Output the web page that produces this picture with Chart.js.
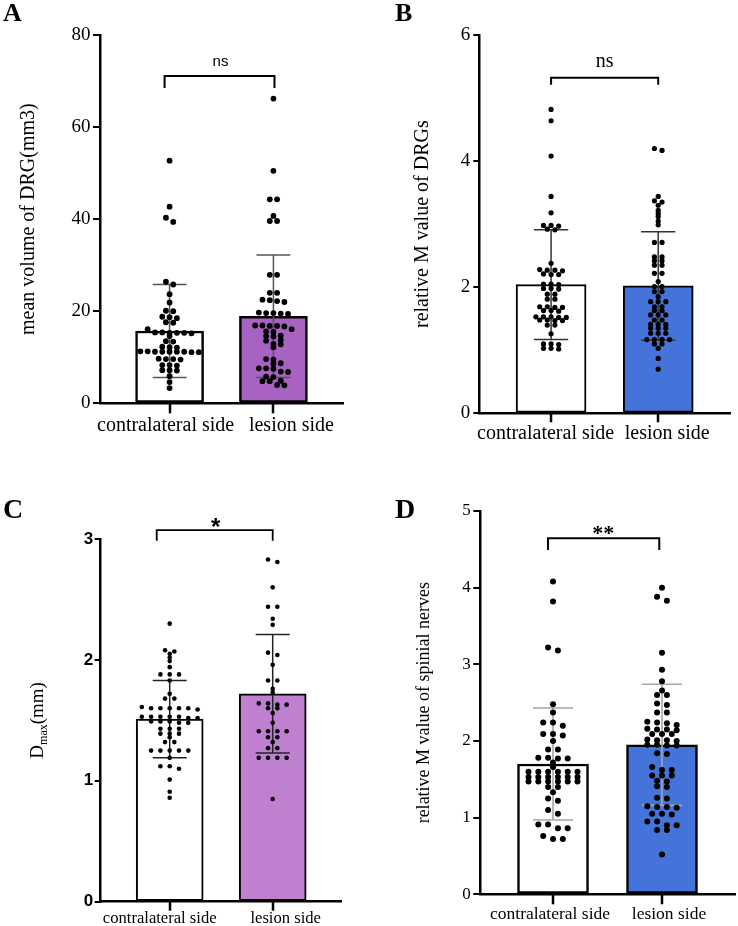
<!DOCTYPE html>
<html>
<head>
<meta charset="utf-8">
<script src="https://cdn.jsdelivr.net/npm/chart.js@4.4.1/dist/chart.umd.min.js"></script>
<style>
html, body { margin: 0; padding: 0; background: #fff; }
#wrap { position: relative; width: 738px; height: 926px; overflow: hidden; background: #fff; }
canvas.panel { position: absolute; }
.letter { position: absolute; font-family: 'Liberation Serif', serif; font-weight: bold; line-height: 1; color: #000; }
</style>
</head>
<body>
<div id="wrap">
  <canvas id="cA" class="panel" width="369" height="460" style="left:0px;top:0px"></canvas>
  <canvas id="cB" class="panel" width="369" height="460" style="left:369px;top:0px"></canvas>
  <canvas id="cC" class="panel" width="369" height="466" style="left:0px;top:460px"></canvas>
  <canvas id="cD" class="panel" width="369" height="466" style="left:369px;top:460px"></canvas>
  <div class="letter" style="left:3px;top:0px;font-size:26px">A</div>
  <div class="letter" style="left:395px;top:0px;font-size:26px">B</div>
  <div class="letter" style="left:3px;top:495px;font-size:28px">C</div>
  <div class="letter" style="left:395px;top:495px;font-size:28px">D</div>
</div>
<script>
// ---------- data ----------
const categories = ['contralateral side', 'lesion side'];

// Panel A: mean volume of DRG (mm3)
const volTicks = [0, 20, 40, 60, 80];
const volMean = [15.7, 18.9];
const volSD = [10.1, 13.3];
const volContra = [52.7, 42.7, 40.3, 39.4, 26.4, 25.8, 23.7, 21.9, 20.1, 20.0, 18.8, 18.7, 18.5, 17.6, 17.5, 16.1, 15.4, 15.3, 15.3, 15.2, 15.4, 15.3, 14.6, 13.5, 13.4, 12.3, 12.2, 12.1, 11.3, 11.2, 11.2, 11.1, 11.2, 11.3, 11.2, 11.1, 11.2, 9.7, 9.6, 9.6, 9.5, 8.3, 8.3, 8.2, 7.2, 7.2, 7.1, 5.9, 4.6, 3.3];
const volLesion = [66.2, 50.5, 44.3, 44.3, 40.7, 39.6, 39.6, 27.9, 27.9, 24.0, 24.0, 22.5, 22.4, 22.2, 22.0, 19.7, 19.6, 19.6, 19.5, 19.4, 16.9, 16.9, 16.8, 16.8, 16.7, 16.1, 15.6, 15.5, 14.7, 14.6, 14.5, 13.7, 13.6, 12.9, 12.8, 12.2, 9.6, 9.5, 8.7, 8.6, 7.6, 7.6, 7.5, 6.9, 6.8, 5.8, 5.7, 4.9, 4.8, 4.8, 4.0, 3.9];

// Panel B: relative M value of DRGs
const drgTicks = [0, 2, 4, 6];
const drgMean = [2.04, 2.02];
const drgSD = [0.87, 0.86];
const drgContra = [4.82, 4.64, 4.08, 3.44, 3.18, 2.98, 2.98, 2.97, 2.92, 2.91, 2.38, 2.28, 2.27, 2.27, 2.26, 2.21, 2.20, 2.20, 2.05, 2.05, 2.04, 1.98, 1.98, 1.97, 1.89, 1.89, 1.81, 1.81, 1.69, 1.69, 1.68, 1.68, 1.63, 1.63, 1.62, 1.53, 1.53, 1.53, 1.52, 1.52, 1.48, 1.48, 1.47, 1.47, 1.40, 1.40, 1.26, 1.10, 1.10, 1.09, 1.03, 1.03, 1.02];
const drgLesion = [4.20, 4.17, 3.44, 3.37, 3.35, 3.30, 3.22, 3.17, 3.12, 3.05, 2.99, 2.71, 2.71, 2.48, 2.48, 2.42, 2.42, 2.35, 2.35, 2.22, 2.22, 2.09, 2.01, 2.01, 1.93, 1.93, 1.85, 1.77, 1.77, 1.77, 1.69, 1.69, 1.63, 1.63, 1.56, 1.56, 1.56, 1.48, 1.48, 1.41, 1.41, 1.41, 1.35, 1.35, 1.35, 1.27, 1.27, 1.27, 1.17, 1.17, 1.17, 1.17, 1.10, 1.10, 1.03, 0.87, 0.70];

// Panel C: Dmax (mm)
const dmaxTicks = [0, 1, 2, 3];
const dmaxMean = [1.51, 1.72];
const dmaxSD = [0.32, 0.49];
const dmaxContra = [2.30, 2.08, 2.07, 2.05, 2.02, 1.99, 1.94, 1.88, 1.88, 1.88, 1.83, 1.72, 1.68, 1.68, 1.61, 1.60, 1.60, 1.60, 1.60, 1.60, 1.59, 1.53, 1.53, 1.53, 1.53, 1.53, 1.52, 1.52, 1.49, 1.49, 1.49, 1.48, 1.48, 1.43, 1.43, 1.43, 1.39, 1.39, 1.39, 1.36, 1.32, 1.32, 1.25, 1.25, 1.25, 1.25, 1.25, 1.19, 1.12, 1.12, 1.10, 1.01, 0.91, 0.86];
const dmaxLesion = [2.83, 2.81, 2.60, 2.44, 2.44, 2.34, 2.29, 2.06, 2.04, 1.96, 1.83, 1.83, 1.76, 1.73, 1.64, 1.64, 1.63, 1.63, 1.60, 1.60, 1.56, 1.48, 1.41, 1.41, 1.41, 1.41, 1.36, 1.36, 1.32, 1.27, 1.27, 1.19, 1.19, 1.19, 1.19, 0.85];

// Panel D: relative M value of spinal nerves
const nerveTicks = [0, 1, 2, 3, 4, 5];
const nerveMean = [1.70, 1.95];
const nerveSD = [0.73, 0.79];
const nerveContra = [4.08, 3.82, 3.22, 3.18, 2.48, 2.37, 2.24, 2.24, 2.20, 2.09, 2.09, 2.07, 2.00, 1.89, 1.89, 1.78, 1.78, 1.77, 1.77, 1.72, 1.66, 1.60, 1.60, 1.60, 1.60, 1.60, 1.60, 1.53, 1.53, 1.53, 1.53, 1.53, 1.53, 1.47, 1.47, 1.47, 1.47, 1.47, 1.47, 1.40, 1.40, 1.33, 1.25, 1.22, 1.10, 1.05, 0.91, 0.91, 0.86, 0.86, 0.76, 0.72, 0.72];
const nerveLesion = [4.00, 3.88, 3.83, 3.15, 2.93, 2.78, 2.66, 2.60, 2.60, 2.49, 2.47, 2.37, 2.37, 2.25, 2.24, 2.23, 2.21, 2.16, 2.15, 2.15, 2.14, 2.09, 2.09, 2.09, 2.02, 2.01, 2.01, 2.00, 1.95, 1.94, 1.95, 1.94, 1.84, 1.83, 1.66, 1.62, 1.62, 1.55, 1.55, 1.55, 1.48, 1.47, 1.41, 1.40, 1.26, 1.25, 1.15, 1.14, 1.14, 1.13, 1.05, 1.05, 1.04, 0.95, 0.95, 0.90, 0.90, 0.84, 0.84, 0.52];

// ---------- panel settings (layout & style) ----------
const SERIF = 'Liberation Serif';
const SANS = 'Liberation Sans';
const panels = [
  { canvas: 'cA', ticks: volTicks, means: volMean, sd: volSD, groups: [volContra, volLesion],
    color: '#a862c2', barW: 68, barBorder: 2.5, axisW: 2.5,
    padding: { left: 0, top: 35, right: 26, bottom: 6.7 }, yAxisW: 100, xAxisH: 50,
    xFont: '20px "Liberation Serif"', xTick: 10, xBase: 27.4, xShift: [-4, 18],
    yFont: { family: SERIF, size: 19, lineHeight: 1 }, yTick: 7, yPad: 2.5,
    title: { text: 'mean volume of DRG(mm3)', font: { family: SERIF, size: 20 }, pad: 17 },
    errColor: '#555', errW: 1.5, capHalf: 0.163,
    dotR: 2.9, dotGap: 7.3, bin: 4.5,
    sig: { x0: -0.048, x1: 1.01, yLine: 71.1, yLeg: 68.5, text: 'ns', tx: 0.49, ty: 73.3, font: '15px "Liberation Sans"', lw: 2 } },
  { canvas: 'cB', ticks: drgTicks, means: drgMean, sd: drgSD, groups: [drgContra, drgLesion],
    color: '#4474da', barW: 70, barBorder: 2, axisW: 2.5,
    padding: { left: 0, top: 35, right: 8, bottom: 6.7 }, yAxisW: 110.3, xAxisH: 40,
    xFont: '20px "Liberation Serif"', xTick: 9, xBase: 26, xShift: [-5.5, 9],
    yFont: { family: SERIF, size: 19, lineHeight: 1 }, yTick: 6, yPad: 3,
    title: { text: 'relative M value of DRGs', font: { family: SERIF, size: 20 }, pad: 41.5 },
    errColor: '#333', errW: 1.5, capHalf: 0.16,
    dotR: 2.6, dotGap: 7.6, bin: 3.0,
    sig: { x0: 0, x1: 1, yLine: 5.32, yLeg: 5.21, text: 'ns', tx: 0.5, ty: 5.5, font: '20px "Liberation Serif"', lw: 2 } },
  { canvas: 'cC', ticks: dmaxTicks, means: dmaxMean, sd: dmaxSD, groups: [dmaxContra, dmaxLesion],
    color: '#c080d0', barW: 67, barBorder: 2, axisW: 2.5,
    padding: { left: 0, top: 79, right: 27.3, bottom: 4.3 }, yAxisW: 100.7, xAxisH: 20,
    xFont: '16.6px "Liberation Serif"', xTick: 9, xBase: 21.3, xShift: [-10, 13],
    yFont: { family: SANS, size: 17, weight: 'bold', lineHeight: 1 }, yTick: 6, yPad: 1.5,
    subTitle: { x: 43, main: 'D', sub: 'max', tail: '(mm)', size: 19, subSize: 12 },
    errColor: '#222', errW: 1.5, capHalf: 0.165,
    dotR: 2.3, dotGap: 9.3, bin: 3.5,
    sig: { x0: -0.126, x1: 1.0, yLine: 3.074, yLeg: 2.986, text: '*', tx: 0.447, ty: 3.03, font: 'bold 24px "Liberation Sans"', lw: 1.8 } },
  { canvas: 'cD', ticks: nerveTicks, means: nerveMean, sd: nerveSD, groups: [nerveContra, nerveLesion],
    color: '#4474da', barW: 71, barBorder: 2.5, axisW: 2.5,
    padding: { left: 0, top: 51, right: 3, bottom: 6.7 }, yAxisW: 111, xAxisH: 25,
    xFont: '17.5px "Liberation Serif"', xTick: 10, xBase: 24.3, xShift: [-3, 7],
    yFont: { family: SERIF, size: 17, lineHeight: 1 }, yTick: 6.7, yPad: 2.6,
    title: { text: 'relative M value of spinial nerves', font: { family: SERIF, size: 18 }, pad: 44.2 },
    errColor: '#a6a6a6', errW: 1.6, capHalf: 0.183,
    dotR: 3.0, dotGap: 9.8, bin: 4.5,
    sig: { x0: -0.046, x1: 0.975, yLine: 4.643, yLeg: 4.49, text: '**', tx: 0.46, ty: 4.625, font: 'bold 22px "Liberation Serif"', lw: 2 } }
];

// ---------- plugins ----------
function panelPlugin(cfg) {
  return {
    id: 'panelExtras_' + cfg.canvas,
    afterDatasetDraw(chart, args) {
      if (args.meta.type !== 'bar') return;
      const xs = chart.scales.x, ys = chart.scales.y, c = chart.ctx;
      c.save();
      c.strokeStyle = cfg.errColor;
      c.lineWidth = cfg.errW;
      cfg.means.forEach((m, i) => {
        const px = xs.getPixelForValue(i);
        const top = ys.getPixelForValue(m + cfg.sd[i]);
        const bot = ys.getPixelForValue(m - cfg.sd[i]);
        const hw = xs.getPixelForValue(i + cfg.capHalf) - px;
        c.beginPath();
        c.moveTo(px, top); c.lineTo(px, bot);
        c.moveTo(px - hw, top); c.lineTo(px + hw, top);
        c.moveTo(px - hw, bot); c.lineTo(px + hw, bot);
        c.stroke();
      });
      c.restore();
    },
    afterDraw(chart) {
      const xs = chart.scales.x, ys = chart.scales.y, c = chart.ctx;
      const s = cfg.sig;
      const base = chart.chartArea.bottom;
      c.save();
      c.setLineDash([]);
      c.globalAlpha = 1;
      // category tick marks and labels under the x axis
      c.fillStyle = '#000';
      categories.forEach((lab, i) => {
        const px = Math.round(xs.getPixelForValue(i));
        c.fillRect(px - 1.25, base, 2.5, cfg.xTick);
      });
      c.font = cfg.xFont;
      c.textAlign = 'center';
      c.textBaseline = 'alphabetic';
      categories.forEach((lab, i) => {
        c.fillText(lab, xs.getPixelForValue(i) + cfg.xShift[i], base + cfg.xBase);
      });
      // significance bracket
      c.strokeStyle = '#000';
      c.lineWidth = s.lw;
      c.beginPath();
      c.moveTo(xs.getPixelForValue(s.x0), ys.getPixelForValue(s.yLeg));
      c.lineTo(xs.getPixelForValue(s.x0), ys.getPixelForValue(s.yLine));
      c.lineTo(xs.getPixelForValue(s.x1), ys.getPixelForValue(s.yLine));
      c.lineTo(xs.getPixelForValue(s.x1), ys.getPixelForValue(s.yLeg));
      c.stroke();
      c.font = s.font;
      c.fillText(s.text, xs.getPixelForValue(s.tx), ys.getPixelForValue(s.ty));
      if (cfg.subTitle) {
        const t = cfg.subTitle;
        const cy = (ys.top + ys.bottom) / 2;
        const big = t.size + 'px "Liberation Serif"', small = t.subSize + 'px "Liberation Serif"';
        c.translate(t.x, cy);
        c.rotate(-Math.PI / 2);
        c.textAlign = 'left';
        c.font = big;
        const w1 = c.measureText(t.main).width, w3 = c.measureText(t.tail).width;
        c.font = small;
        const w2 = c.measureText(t.sub).width;
        const x0 = -(w1 + w2 + w3) / 2;
        c.font = big; c.fillText(t.main, x0, 0);
        c.font = small; c.fillText(t.sub, x0 + w1, 4);
        c.font = big; c.fillText(t.tail, x0 + w1 + w2, 0);
      }
      c.restore();
    }
  };
}

// beeswarm-like layout computed from values through the chart scales
function swarm(values, cat, chart, gapPx, binPx) {
  const xs = chart.scales.x, ys = chart.scales.y;
  const unit = xs.getPixelForValue(1) - xs.getPixelForValue(0);
  const sorted = values.slice().sort((a, b) => b - a);
  const out = [];
  let row = [];
  const flush = () => {
    const n = row.length;
    row.forEach((v, k) => out.push({ x: cat + (k - (n - 1) / 2) * gapPx / unit, y: v }));
    row = [];
  };
  sorted.forEach(v => {
    if (row.length && Math.abs(ys.getPixelForValue(row[0]) - ys.getPixelForValue(v)) > binPx) flush();
    row.push(v);
  });
  flush();
  return out;
}

function makePanel(cfg) {
  const yMax = cfg.ticks[cfg.ticks.length - 1];
  const yScale = {
    type: 'linear', min: cfg.ticks[0], max: yMax,
    afterFit: s => { s.width = cfg.yAxisW; },
    afterBuildTicks: s => { s.ticks = cfg.ticks.map(v => ({ value: v })); },
    ticks: { font: cfg.yFont, color: '#000', padding: cfg.yPad },
    grid: { drawOnChartArea: false, drawTicks: true, tickLength: cfg.yTick, tickColor: '#000', lineWidth: 2, offset: false },
    border: { display: true, color: '#000', width: cfg.axisW }
  };
  if (cfg.title) {
    yScale.title = { display: true, text: cfg.title.text, color: '#000', font: cfg.title.font, padding: { top: cfg.title.pad, bottom: 0 } };
  }
  const chart = new Chart(document.getElementById(cfg.canvas), {
    type: 'bar',
    data: {
      datasets: [
        { type: 'scatter', data: [], backgroundColor: '#000', borderWidth: 0,
          pointRadius: cfg.dotR, pointHoverRadius: cfg.dotR, order: 0 },
        { type: 'bar', data: cfg.means.map((m, i) => ({ x: i, y: m })),
          backgroundColor: ['#ffffff', cfg.color], borderColor: '#000', borderWidth: cfg.barBorder,
          borderSkipped: false, barThickness: cfg.barW, order: 1 }
      ]
    },
    options: {
      responsive: false, animation: false, events: [],
      layout: { padding: cfg.padding },
      plugins: { legend: { display: false }, tooltip: { enabled: false } },
      scales: {
        x: {
          type: 'linear', min: -0.67, max: 1.67, offset: false,
          afterFit: s => { s.height = cfg.xAxisH; },
          afterBuildTicks: s => { s.ticks = categories.map((_, i) => ({ value: i })); },
          ticks: { display: false, autoSkip: false, maxRotation: 0 },
          grid: { display: false },
          border: { display: true, color: '#000', width: cfg.axisW }
        },
        y: yScale
      }
    },
    plugins: [panelPlugin(cfg)]
  });
  const pts = [];
  cfg.groups.forEach((vals, i) => pts.push(...swarm(vals, i, chart, cfg.dotGap, cfg.bin)));
  chart.data.datasets[0].data = pts;
  chart.update('none');
  return chart;
}

panels.forEach(makePanel);
</script>
</body>
</html>
